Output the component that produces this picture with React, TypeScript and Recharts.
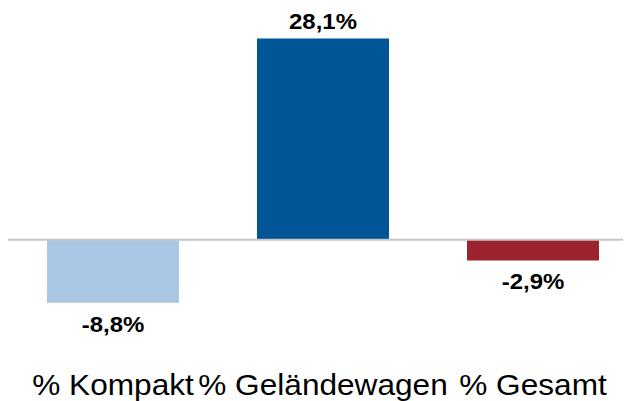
import { BarChart, Bar, XAxis, YAxis, Cell, ReferenceLine, LabelList } from 'recharts';

const categories = ['% Kompakt', '% Geländewagen', '% Gesamt'];
const changes = [-8.8, 28.1, -2.9];

const barColors = ['#a9c7e5', '#005596', '#9c232e'];
const font = '"Liberation Sans", Arial, sans-serif';

const data = categories.map((name, i) => ({ name, value: changes[i] }));

const fmt = (v: number) => v.toFixed(1).replace('.', ',') + '%';

const CategoryTick = (props: any) => {
  const { x, y, payload } = props;
  return (
    <g transform={`translate(${x},${y})`}>
      <text
        transform="scale(1.09,1)"
        y={40}
        textAnchor="middle"
        fontFamily={font}
        fontSize={29}
        fill="#000"
      >
        {payload.value}
      </text>
    </g>
  );
};

const ValueLabel = (props: any) => {
  const { x, y, width, height, value } = props;
  const cx = x + width / 2;
  // bars with negative values have a negative height in recharts
  const top = Math.min(y, y + height);
  const bottom = Math.max(y, y + height);
  const ty = value >= 0 ? top - 9.5 : bottom + 29;
  return (
    <g transform={`translate(${cx},${ty})`}>
      <text
        transform="scale(1.09,1)"
        textAnchor="middle"
        fontFamily={font}
        fontSize={22}
        fontWeight="bold"
        fill="#000"
      >
        {fmt(value)}
      </text>
    </g>
  );
};

export default function App() {
  return (
    <div style={{ width: 623, height: 393, overflow: 'hidden' }}>
      <BarChart
        width={630}
        height={393}
        data={data}
        margin={{ top: 17, right: 0, bottom: 4, left: 0 }}
      >
        <XAxis
          dataKey="name"
          axisLine={false}
          tickLine={false}
          height={50}
          interval={0}
          tick={<CategoryTick />}
        />
        <YAxis hide domain={[-15, 30]} />
        <Bar dataKey="value" barSize={132} isAnimationActive={false}>
          {data.map((d, i) => (
            <Cell key={d.name} fill={barColors[i]} />
          ))}
          <LabelList dataKey="value" content={<ValueLabel />} />
        </Bar>
        <ReferenceLine y={0} stroke="#c6c6c6" strokeWidth={2} />
      </BarChart>
    </div>
  );
}
